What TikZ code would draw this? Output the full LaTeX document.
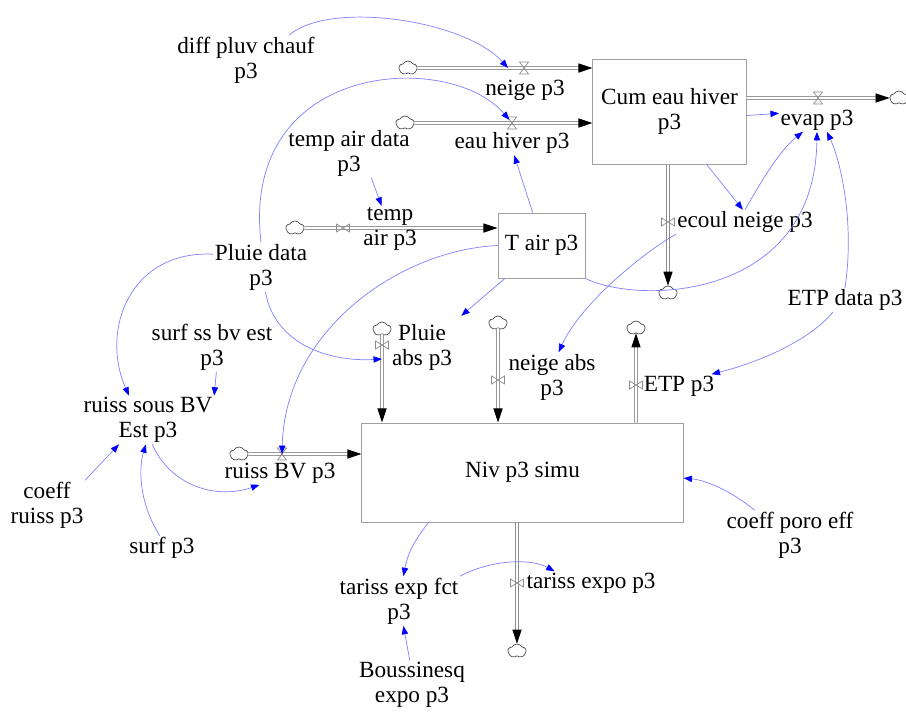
\documentclass[tikz,border=0pt]{standalone}
\usepackage{fontspec}
\setmainfont{Liberation Serif}
\usetikzlibrary{shapes.symbols, arrows.meta}
\definecolor{linkstroke}{HTML}{8080FF}
\definecolor{linktip}{HTML}{0000FF}
\definecolor{pipestroke}{HTML}{8C8C8C}
\definecolor{boxstroke}{HTML}{A0A0A0}
\definecolor{cloudstroke}{HTML}{4A4A4A}

\begin{document}
\begin{tikzpicture}[
          x=0.025cm, y=-0.025cm,
          font=\fontsize{16.5}{17.8}\selectfont,
          % 1. Niveles (cajas)
          stockbox/.style={
              rectangle,
              draw=boxstroke,
              line width=0.7pt,
              align=center,
              inner sep=0pt
          },
          % 2. Variables auxiliares y etiquetas de flujo
          aux/.style={align=center, inner sep=1pt},
          % 3. Nubes (fuentes y sumideros)
          cloudnode/.style={cloud, cloud puffs=5, cloud puff arc=120, aspect=1.3, draw=cloudstroke,
              line width=0.5pt, minimum width=0.45cm, minimum height=0.35cm, inner sep=0pt},
          % 4. Tuberias de flujo
          pipe/.style={draw=pipestroke, line width=0.6pt, double=white, double distance=1.5pt,
              -{Triangle[length=10pt, width=6.5pt, color=black, fill=black]}},
          % 5. Valvulas
          valveline/.style={draw=pipestroke, line width=0.5pt},
          hourglassvalve/.pic={\draw[valveline] (-4.5,-6) -- (4.5,-6) -- (-4.5,6) -- (4.5,6) -- cycle;},
          bowtievalve/.pic={\draw[valveline] (-6.5,-4) -- (-6.5,4) -- (6.5,-4) -- (6.5,4) -- cycle;},
          % 6. Enlaces (flechas azules)
          link/.style={draw=linkstroke, line width=0.5pt,
              -{Triangle[length=6pt, width=4.5pt, color=linktip, fill=linktip]}}
      ]
      \useasboundingbox (0,0) rectangle (906,713);

      % === NIVELES ===
      \node[stockbox, minimum width=3.825cm, minimum height=2.625cm] (cum) at (669.5,111.5) {Cum eau hiver\\p3};
      \node[stockbox, minimum width=2.175cm, minimum height=1.625cm] (tair) at (541.5,245.5) {T air p3};
      \node[stockbox, minimum width=8.025cm, minimum height=2.475cm] (niv) at (522.5,472.5) {Niv p3 simu};

      % === NUBES ===
      \node[cloudnode] (cneige) at (408,68) {};
      \node[cloudnode] (ceau) at (405,123) {};
      \node[cloudnode] (cevap) at (899,98) {};
      \node[cloudnode] (ctemp) at (295,228) {};
      \node[cloudnode] (cecoul) at (668,293) {};
      \node[cloudnode] (cpluie) at (382,329) {};
      \node[cloudnode] (cneigeabs) at (498,323) {};
      \node[cloudnode] (cetp) at (636,328) {};
      \node[cloudnode] (cruiss) at (239,454) {};
      \node[cloudnode] (ctariss) at (517,651) {};

      % === TUBERIAS ===
      \draw[pipe] (cneige.east) -- (cneige -| cum.west);
      \draw[pipe] (ceau.east) -- (ceau -| cum.west);
      \draw[pipe] (cevap -| cum.east) -- (cevap.west);
      \draw[pipe] (ctemp.east) -- (ctemp -| tair.west);
      \draw[pipe] (cecoul |- cum.south) -- (cecoul.north);
      \draw[pipe] (cpluie.south) -- (cpluie |- niv.north);
      \draw[pipe] (cneigeabs.south) -- (cneigeabs |- niv.north);
      \draw[pipe] (cetp |- niv.north) -- (cetp.south);
      \draw[pipe] (cruiss.east) -- (cruiss -| niv.west);
      \draw[pipe] (ctariss |- niv.south) -- (ctariss.north);

      % === VALVULAS ===
      \coordinate (vneige) at (524,68);      \pic at (vneige) {hourglassvalve};
      \coordinate (veau) at (512,123);       \pic at (veau) {hourglassvalve};
      \coordinate (vevap) at (818,98);       \pic at (vevap) {hourglassvalve};
      \coordinate (vruiss) at (282,454);     \pic at (vruiss) {hourglassvalve};
      \coordinate (vtemp) at (343,228);      \pic at (vtemp) {bowtievalve};
      \coordinate (vecoul) at (668,222);     \pic at (vecoul) {bowtievalve};
      \coordinate (vpluie) at (382,345);     \pic at (vpluie) {bowtievalve};
      \coordinate (vneigeabs) at (498,380);  \pic at (vneigeabs) {bowtievalve};
      \coordinate (vetp) at (636,385);       \pic at (vetp) {bowtievalve};
      \coordinate (vtariss) at (517,583);    \pic at (vtariss) {bowtievalve};

      % === ETIQUETAS DE FLUJO ===
      \node[aux] (neigelabel) at (525,90) {neige p3};
      \node[aux] (eaulabel) at (512,143) {eau hiver p3};
      \node[aux] (evaplabel) at (817,120) {evap p3};
      \node[aux] (templabel) at (390,229) {temp\\air p3};
      \node[aux] (ecoullabel) at (745,222) {ecoul neige p3};
      \node[aux] (pluieabs) at (422,347) {Pluie\\abs p3};
      \node[aux] (neigeabs) at (552,377) {neige abs\\p3};
      \node[aux] (etplabel) at (679,386) {ETP p3};
      \node[aux] (ruisslabel) at (280,473) {ruiss BV p3};
      \node[aux] (tarisslabel) at (591,583) {tariss expo p3};

      % === VARIABLES AUXILIARES ===
      \node[aux] (diffpluv) at (246,60) {diff pluv chauf\\p3};
      \node[aux] (tempdata) at (349,153) {temp air data\\p3};
      \node[aux] (pluiedata) at (261,267) {Pluie data\\p3};
      \node[aux] (surfss) at (212,347) {surf ss bv est\\p3};
      \node[aux] (ruisssous) at (148,420) {ruiss sous BV\\Est p3};
      \node[aux] (coeffruiss) at (47,505) {coeff\\ruiss p3};
      \node[aux] (surfp) at (162,548) {surf p3};
      \node[aux] (etpdata) at (845,300) {ETP data p3};
      \node[aux] (coeffporo) at (790,535) {coeff poro eff\\p3};
      \node[aux] (tarissfct) at (399,601) {tariss exp fct\\p3};
      \node[aux] (bouss) at (412,685) {Boussinesq\\expo p3};

      % === ENLACES ===
      \draw[link] (diffpluv.30) .. controls (330,0) and (465,20) .. ([xshift=-0.4cm]vneige);
      \draw[link, shorten >=0.1cm] (pluiedata.north) .. controls (240,60) and (450,50) .. (veau);
      \draw[link] (pluiedata.165) .. controls (130,250) and (100,330) .. (ruisssous.128);
      \draw[link] (pluiedata.-80) .. controls (275,345) and (330,362) .. ([yshift=-0.35cm]vpluie);
      \draw[link] (tempdata.-48) -- (templabel.110);
      \draw[link] (tair.105) -- (eaulabel.-80);
      \draw[link, shorten >=0.25cm] (tair.-138) -- (pluieabs.north east);
      \draw[link] (tair.west) .. controls (400,250) and (285,330) .. (vruiss);
      \draw[link] (tair.south east) .. controls (640,305) and (815,300) .. (evaplabel.south);
      \draw[link] (ecoullabel.north) .. controls (762,180) and (780,150) .. (evaplabel.-140);
      \draw[link] (ecoullabel.south west) .. controls (640,255) and (580,305) .. (neigeabs.75);
      \draw[link] (cum.-3) -- (evaplabel.170);
      \draw[link] (cum.-55) -- (ecoullabel.100);
      \draw[link] (etpdata.north) .. controls (855,220) and (840,160) .. (evaplabel.-50);
      \draw[link] (etpdata.-135) .. controls (810,340) and (760,362) .. (etplabel.20);
      \draw[link] (surfss.-80) -- (ruisssous.north east);
      \draw[link] (coeffruiss.north east) -- (ruisssous.-140);
      \draw[link] (surfp.100) .. controls (140,505) and (138,470) .. (ruisssous.-95);
      \draw[link] (ruisssous.-80) .. controls (170,485) and (215,500) .. (ruisslabel.-150);
      \draw[link] (coeffporo.145) .. controls (730,490) and (705,480) .. (niv.-2);
      \draw[link] (niv.208) .. controls (415,540) and (408,552) .. (tarissfct.80);
      \draw[link] (tarissfct.north east) .. controls (490,560) and (530,558) .. (tarisslabel.162);
      \draw[link] (bouss.95) -- (tarissfct.-80);

      \end{tikzpicture}
\end{document}
